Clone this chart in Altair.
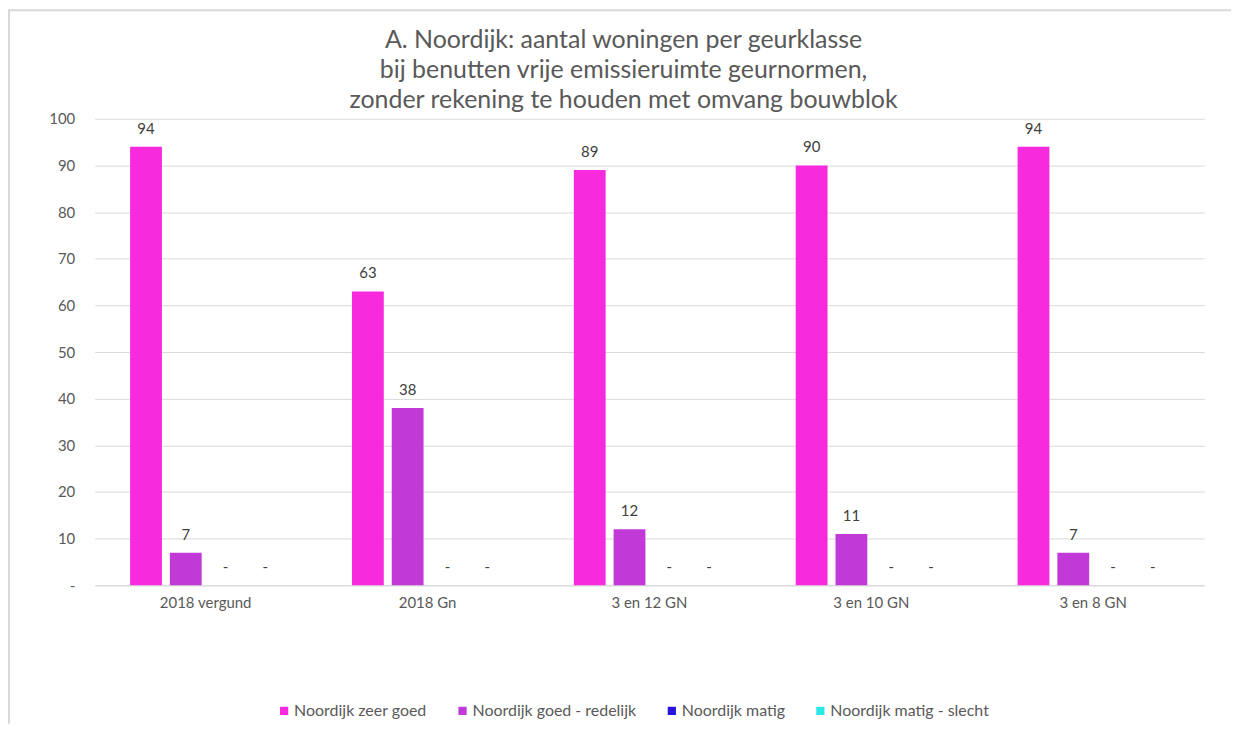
import altair as alt
import pandas as pd

categories = ["2018 vergund", "2018 Gn", "3 en 12 GN", "3 en 10 GN", "3 en 8 GN"]
series = ["Noordijk zeer goed", "Noordijk goed - redelijk", "Noordijk matig", "Noordijk matig - slecht"]
zeer_goed = [94, 63, 89, 90, 94]
goed_redelijk = [7, 38, 12, 11, 7]
matig = [0, 0, 0, 0, 0]
matig_slecht = [0, 0, 0, 0, 0]
colors = ["#F72BDD", "#C13AD8", "#2A12E0", "#2DE8E8"]
y_ticks = [0, 10, 20, 30, 40, 50, 60, 70, 80, 90, 100]
title_lines = [
    "A. Noordijk: aantal woningen per geurklasse",
    "bij benutten vrije emissieruimte geurnormen,",
    "zonder rekening te houden met omvang bouwblok",
]

rows = []
for s, vals in zip(series, [zeer_goed, goed_redelijk, matig, matig_slecht]):
    for c, v in zip(categories, vals):
        rows.append({"cat": c, "serie": s, "value": v, "label": "-" if v == 0 else str(v)})
df = pd.DataFrame(rows)

FONT = "Lato"
GREY = "#595959"

x_enc = alt.X("cat:N", sort=categories, title=None,
              scale=alt.Scale(paddingInner=0.283, paddingOuter=0.1415),
              axis=alt.Axis(labelAngle=0, ticks=False, domain=True, domainColor="#d9d9d9",
                            labelFontSize=15, labelColor=GREY, labelPadding=10, labelFont=FONT))
xo_enc = alt.XOffset("serie:N", sort=series, scale=alt.Scale(paddingInner=0.2, paddingOuter=0.1))
y_enc = alt.Y("value:Q", title=None,
              scale=alt.Scale(domain=[0, 100], nice=False),
              axis=alt.Axis(values=y_ticks, grid=True, gridColor="#d9d9d9", domain=False, ticks=False,
                            labelFontSize=15, labelColor=GREY, labelPadding=20, labelFont=FONT,
                            labelExpr="datum.value == 0 ? '-' : datum.label"))

base = alt.Chart(df)

bars = base.mark_bar().encode(
    x=x_enc, xOffset=xo_enc, y=y_enc,
    color=alt.Color("serie:N", sort=series,
                    scale=alt.Scale(domain=series, range=colors),
                    legend=alt.Legend(title=None, orient="none", direction="horizontal",
                                      legendX=182, legendY=586,
                                      symbolType="square", symbolSize=68, symbolStrokeWidth=0,
                                      labelFontSize=16, labelColor=GREY, labelFont=FONT,
                                      columnPadding=27, labelOffset=2, labelLimit=300)),
)

labels = base.mark_text(baseline="alphabetic", dy=-13, fontSize=15, color="#404040", font=FONT).encode(
    x=alt.X("cat:N", sort=categories), xOffset=alt.XOffset("serie:N", sort=series),
    y="value:Q", text="label:N",
)

frame_src = alt.Chart(pd.DataFrame({"a": [0]}))
top_edge = frame_src.mark_rule(stroke="#d9d9d9", strokeWidth=2, clip=False).encode(
    x=alt.value(-87), x2=alt.value(1140), y=alt.value(-109))
left_edge = frame_src.mark_rule(stroke="#d9d9d9", strokeWidth=2, clip=False).encode(
    x=alt.value(-86), y=alt.value(-110), y2=alt.value(607))

chart = alt.layer(top_edge, left_edge, bars, labels).properties(
    width=1113, height=468,
    title=alt.TitleParams(text=title_lines, fontSize=25, font=FONT, color=GREY, fontWeight="normal",
                          anchor="middle", dx=-26, dy=113, offset=8, lineHeight=30),
    autosize=alt.AutoSizeParams(type="none"),
    padding={"left": 87, "top": 110, "right": 30, "bottom": 140},
).configure(background="white").configure_view(strokeWidth=0)

chart.save("out.html", embed_options={"renderer": "svg", "actions": False})
